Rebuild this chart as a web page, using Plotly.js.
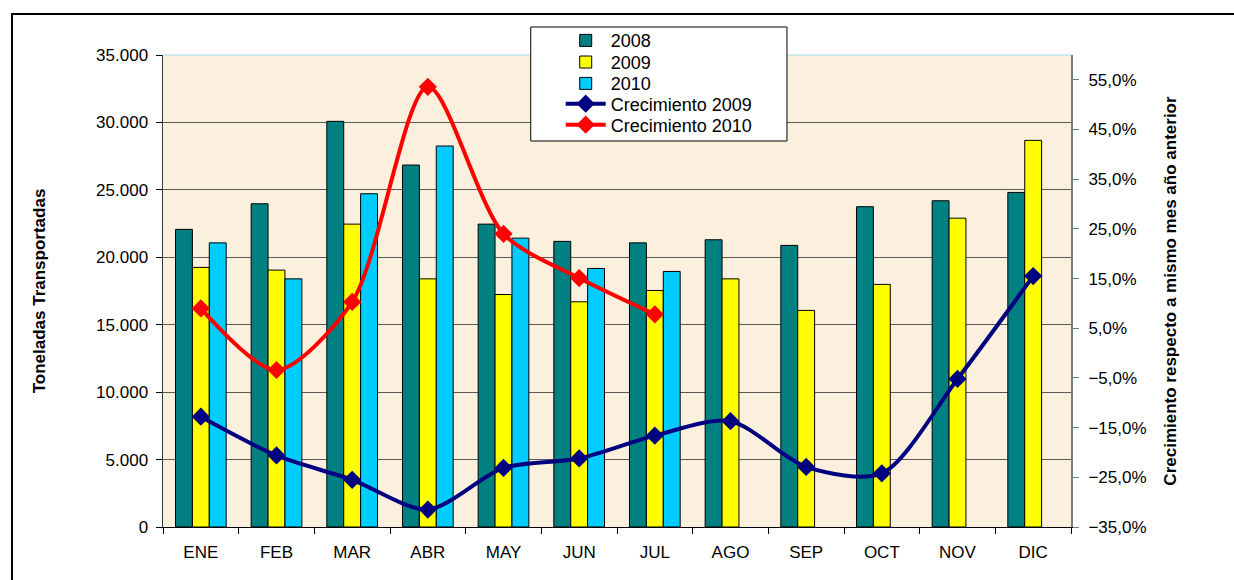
<!DOCTYPE html>
<html>
<head>
<meta charset="utf-8">
<script src="https://cdn.plot.ly/plotly-3.0.1.min.js"></script>
<style>
  html, body { margin: 0; padding: 0; background: #ffffff; }
  #frame { position: absolute; left: 11px; top: 13px; width: 1240px; height: 600px;
           border-left: 2px solid #000; border-top: 2px solid #000; pointer-events: none; z-index: 5; }
  #chart { position: absolute; left: 0; top: 0; width: 1234px; height: 580px; }
</style>
</head>
<body>
<div id="chart"></div>
<div id="frame"></div>
<script>
// Categories (months)
const months = ["ENE","FEB","MAR","ABR","MAY","JUN","JUL","AGO","SEP","OCT","NOV","DIC"];

// Toneladas transportadas
const t2008 = [22070, 23970, 30080, 26840, 22460, 21180, 21070, 21300, 20880, 23750, 24190, 24810];
const t2009 = [19250, 19050, 22460, 18400, 17240, 16700, 17540, 18400, 16060, 17990, 22900, 28670];
const t2010 = [21070, 18400, 24710, 28250, 21420, 19170, 18950, null, null, null, null, null];

// Crecimiento respecto a mismo mes año anterior (%)
const crec2009 = [-12.8, -20.6, -25.5, -31.5, -23.1, -21.2, -16.6, -13.7, -22.9, -24.2, -5.2, 15.5];
const crec2010 = [9.0, -3.4, 10.3, 53.6, 24.0, 15.1, 7.8, null, null, null, null, null];

const FAM = 'Liberation Sans, Arial, sans-serif';
const barLine = {color: '#000000', width: 1};

const traces = [
  {type: 'bar', name: '2008', x: months, y: t2008, marker: {color: '#008080', line: barLine}, legend: 'legend'},
  {type: 'bar', name: '2009', x: months, y: t2009, marker: {color: '#FFFF00', line: barLine}, legend: 'legend2'},
  {type: 'bar', name: '2010', x: months, y: t2010, marker: {color: '#00CCFF', line: barLine}, legend: 'legend3'},
  {type: 'scatter', mode: 'lines+markers', name: 'Crecimiento 2009', x: months, y: crec2009, yaxis: 'y2',
   line: {color: '#000080', width: 4, shape: 'spline', smoothing: 0.8},
   marker: {symbol: 'diamond', size: 14, color: '#000080'}, legend: 'legend4'},
  {type: 'scatter', mode: 'lines+markers', name: 'Crecimiento 2010', x: months, y: crec2010, yaxis: 'y2',
   line: {color: '#FF0000', width: 4, shape: 'spline', smoothing: 0.8},
   marker: {symbol: 'diamond', size: 14, color: '#FF0000'}, connectgaps: false, legend: 'legend5'}
];

const axFont = {family: FAM, size: 17, color: '#000'};
const titleFont = {family: FAM, size: 17, color: '#000', weight: 'bold'};

function leg(y) {
  return {x: 0.438, xanchor: 'left', y: y, yanchor: 'middle',
          bgcolor: 'rgba(0,0,0,0)', borderwidth: 0,
          font: {family: FAM, size: 18, color: '#000'}, itemwidth: 40};
}

const layout = {
  width: 1234, height: 580,
  margin: {l: 163, r: 163, t: 55, b: 53, autoexpand: false},
  paper_bgcolor: '#ffffff',
  plot_bgcolor: '#FBF0DE',
  separators: ',.',
  barmode: 'group',
  bargap: 0.33,
  bargroupgap: 0,
  font: axFont,
  showlegend: true,
  legend: leg(1.0303),
  legend2: leg(0.9845),
  legend3: leg(0.9392),
  legend4: leg(0.8962),
  legend5: leg(0.8517),
  xaxis: {
    type: 'category', range: [-0.5, 11.5], tickfont: axFont,
    showline: true, linecolor: '#000', linewidth: 1,
    ticks: 'outside', tickson: 'boundaries', ticklen: 6, tickcolor: '#000',
    ticklabelstandoff: 10,
    showgrid: false, zeroline: false, fixedrange: true
  },
  yaxis: {
    range: [0, 35000], dtick: 5000, tick0: 0, tickformat: ',d',
    tickfont: axFont,
    showline: true, linecolor: '#2F3F3F', linewidth: 1.5,
    ticks: 'outside', ticklen: 6, tickcolor: '#000',
    ticklabelstandoff: 4,
    showgrid: true, gridcolor: '#5A5A5A', gridwidth: 1, zeroline: false,
    title: {text: 'Toneladas Transportadas', standoff: 46, font: titleFont},
    automargin: false
  },
  yaxis2: {
    overlaying: 'y', side: 'right',
    range: [-35, 60], tick0: -35, dtick: 10, tickformat: '.1f', ticksuffix: '%',
    tickfont: axFont,
    showline: true, linecolor: '#6E8080', linewidth: 2,
    ticks: 'outside', ticklen: 6, tickcolor: '#6E8080',
    ticklabelstandoff: 6,
    showgrid: false, zeroline: false,
    title: {text: 'Crecimiento respecto a mismo mes año anterior', standoff: 19, font: titleFont},
    automargin: false
  },
  shapes: [
    {type: 'line', xref: 'paper', yref: 'paper', x0: 0, x1: 1, y0: 1, y1: 1,
     line: {color: '#BFE6EE', width: 1.5}, layer: 'below'},
    {type: 'rect', xref: 'paper', yref: 'paper', x0: 0.405, x1: 0.6872, y0: 1.0593, y1: 0.8178,
     fillcolor: '#ffffff', line: {color: '#000', width: 1}, layer: 'above'}
  ]
};

Plotly.newPlot('chart', traces, layout, {displayModeBar: false, staticPlot: true});
</script>
</body>
</html>
